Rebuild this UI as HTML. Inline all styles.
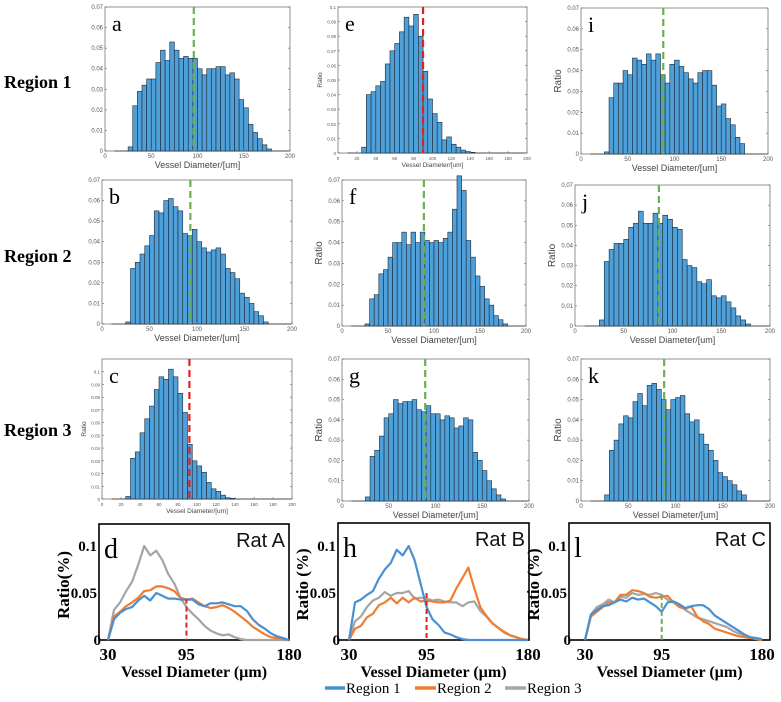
<!DOCTYPE html>
<html><head><meta charset="utf-8">
<style>
body{margin:0;background:#fff;}
svg{display:block;}
</style></head>
<body>
<svg id="fig" width="781" height="702" viewBox="0 0 781 702" xmlns="http://www.w3.org/2000/svg" font-family="Liberation Sans, sans-serif">
<text x="4" y="88" font-family="Liberation Serif, serif" font-weight="bold" font-size="18">Region 1</text>
<text x="4" y="262" font-family="Liberation Serif, serif" font-weight="bold" font-size="18">Region 2</text>
<text x="4" y="436" font-family="Liberation Serif, serif" font-weight="bold" font-size="18">Region 3</text>
<g font-family="Liberation Serif, serif" font-size="15">
<line x1="325" y1="688" x2="345" y2="688" stroke="#4a90d0" stroke-width="3.5"/>
<text x="346" y="693">Region 1</text>
<line x1="415" y1="688" x2="436" y2="688" stroke="#ee7d31" stroke-width="3.5"/>
<text x="437" y="693">Region 2</text>
<line x1="505" y1="688" x2="526" y2="688" stroke="#a5a5a5" stroke-width="3.5"/>
<text x="527" y="693">Region 3</text>
</g>
</svg>
<script>
// Histogram data: bins start at 25 um, width 5 um
const binStart = 25;
const binWidth = 5;
const histA = [0.002,0.022,0.029,0.032,0.035,0.035,0.043,0.049,0.044,0.053,0.049,0.045,0.046,0.045,0.045,0.040,0.037,0.040,0.040,0.041,0.041,0.037,0.038,0.035,0.025,0.021,0.013,0.009,0.006,0.003,0.001];
const histE = [0.004,0.040,0.042,0.046,0.049,0.061,0.070,0.075,0.083,0.093,0.087,0.095,0.080,0.056,0.037,0.027,0.021,0.009,0.011,0.006,0.004,0.002,0.001,0.0005];
const histI = [0.001,0.027,0.034,0.034,0.040,0.038,0.046,0.045,0.043,0.048,0.045,0.048,0.038,0.034,0.043,0.045,0.042,0.039,0.036,0.034,0.039,0.040,0.040,0.033,0.023,0.024,0.017,0.014,0.008,0.005];
const histB = [0.001,0.027,0.030,0.034,0.038,0.043,0.055,0.054,0.060,0.061,0.057,0.055,0.044,0.043,0.046,0.040,0.037,0.035,0.036,0.037,0.034,0.027,0.025,0.022,0.015,0.013,0.010,0.006,0.004,0.001];
const histF = [0.001,0.013,0.015,0.025,0.027,0.033,0.040,0.040,0.045,0.039,0.045,0.040,0.045,0.041,0.040,0.041,0.040,0.042,0.045,0.056,0.072,0.065,0.041,0.033,0.024,0.019,0.013,0.010,0.005,0.003,0.001];
const histJ = [0.003,0.032,0.038,0.041,0.041,0.043,0.049,0.051,0.057,0.051,0.051,0.056,0.051,0.055,0.053,0.049,0.048,0.033,0.030,0.029,0.022,0.021,0.023,0.015,0.014,0.015,0.012,0.009,0.005,0.003,0.001];
const histC = [0.002,0.032,0.037,0.052,0.063,0.073,0.086,0.096,0.094,0.102,0.096,0.083,0.068,0.043,0.030,0.026,0.021,0.013,0.008,0.006,0.003,0.001,0.0005];
const histG = [0.002,0.022,0.025,0.032,0.041,0.043,0.050,0.048,0.049,0.049,0.050,0.045,0.044,0.047,0.043,0.043,0.040,0.042,0.041,0.036,0.037,0.041,0.040,0.024,0.020,0.015,0.010,0.006,0.003,0.001];
const histK = [0.003,0.025,0.030,0.038,0.042,0.041,0.049,0.053,0.047,0.057,0.058,0.055,0.050,0.045,0.050,0.051,0.052,0.043,0.039,0.040,0.033,0.028,0.025,0.020,0.014,0.012,0.010,0.008,0.005,0.003];
const ticks007 = [0,0.01,0.02,0.03,0.04,0.05,0.06,0.07];
const tickLabels007 = ["0","0.01","0.02","0.03","0.04","0.05","0.06","0.07"];
const ticks01 = [0,0.01,0.02,0.03,0.04,0.05,0.06,0.07,0.08,0.09,0.1];
const tickLabels01 = ["0","0.01","0.02","0.03","0.04","0.05","0.06","0.07","0.08","0.09","0.1"];
const xTicks50 = [0,50,100,150,200];
const xTicks20 = [0,20,40,60,80,100,120,140,160,180,200];

// Line chart data
const lineX = [30,35,40,45,50,55,60,65,70,75,80,85,90,95,100,105,110,115,120,125,130,135,140,145,150,155,160,165,170,175,180];
const ratA1 = [0,0.022,0.029,0.033,0.035,0.042,0.047,0.042,0.050,0.047,0.044,0.044,0.043,0.043,0.043,0.038,0.036,0.039,0.039,0.040,0.038,0.036,0.036,0.031,0.022,0.016,0.012,0.007,0.004,0.002,0];
const ratA2 = [0,0.025,0.030,0.036,0.040,0.045,0.052,0.053,0.057,0.057,0.055,0.052,0.045,0.043,0.044,0.040,0.036,0.034,0.035,0.037,0.034,0.030,0.025,0.020,0.014,0.010,0.006,0.003,0.002,0.001,0];
const ratA3 = [0,0.032,0.040,0.052,0.062,0.080,0.100,0.090,0.095,0.085,0.070,0.060,0.045,0.035,0.028,0.022,0.015,0.010,0.007,0.005,0.006,0.003,0.001,0,0,0,0,0,0,0,0];
const ratB1 = [0,0.040,0.043,0.048,0.052,0.065,0.075,0.082,0.096,0.090,0.100,0.085,0.060,0.035,0.022,0.016,0.008,0.006,0.003,0.001,0,0,0,0,0,0,0,0,0,0,0];
const ratB2 = [0,0.012,0.015,0.024,0.028,0.037,0.040,0.045,0.039,0.045,0.040,0.045,0.041,0.042,0.041,0.040,0.040,0.042,0.055,0.066,0.077,0.055,0.035,0.026,0.018,0.013,0.008,0.005,0.003,0.001,0];
const ratB3 = [0,0.020,0.025,0.035,0.042,0.045,0.051,0.047,0.050,0.050,0.052,0.044,0.045,0.044,0.042,0.043,0.041,0.040,0.040,0.036,0.040,0.041,0.031,0.025,0.018,0.013,0.009,0.005,0.003,0.001,0];
const ratC1 = [0,0.027,0.032,0.036,0.037,0.040,0.043,0.041,0.045,0.043,0.044,0.040,0.036,0.030,0.040,0.041,0.038,0.034,0.036,0.037,0.037,0.033,0.026,0.022,0.018,0.014,0.010,0.006,0.003,0.002,0.001];
const ratC2 = [0,0.025,0.030,0.035,0.040,0.040,0.048,0.048,0.053,0.052,0.050,0.046,0.045,0.046,0.047,0.040,0.035,0.033,0.036,0.025,0.020,0.017,0.012,0.010,0.008,0.006,0.004,0.003,0.002,0.001,0];
const ratC3 = [0,0.027,0.035,0.038,0.043,0.040,0.046,0.045,0.050,0.048,0.049,0.048,0.050,0.048,0.043,0.040,0.037,0.032,0.028,0.024,0.022,0.020,0.018,0.016,0.014,0.010,0.007,0.005,0.003,0.002,0];
const lineYTicks = [0,0.05,0.1];
const lineYLabels = ["0","0.05","0.1"];
const lineXTicks = [30,95,180];

const NS = "http://www.w3.org/2000/svg";
const svg = document.getElementById('fig');
function mk(tag, attrs, parent){
  const e = document.createElementNS(NS, tag);
  for (const k in attrs) e.setAttribute(k, attrs[k]);
  (parent||svg).appendChild(e);
  return e;
}

function histogram(o){
  const g = mk('g', {});
  
  
  const sx = v => o.x0 + (v/200)*(o.x1-o.x0);
  const sy = v => o.y1 - (v/o.ymax)*(o.y1-o.y0);
  const fr = mk('rect', {x:o.x0, y:o.y0, width:o.x1-o.x0, height:o.y1-o.y0, fill:'#fff', stroke:'#777', 'stroke-width':0.8}, g);
  
  
  // baseline
  mk('line', {x1:sx(10), y1:o.y1, x2:sx(200), y2:o.y1, stroke:'#333','stroke-width':0.8}, g);
  o.values.forEach((v,i)=>{
    const a = binStart + i*binWidth;
    const r = mk('rect', {x:sx(a), y:sy(v), width:sx(a+binWidth)-sx(a), height:o.y1-sy(v), fill:'#4f9fd8', stroke:'#1c2a38', 'stroke-width':0.6}, g);
    
    
  });
  const fs = o.small ? 4.5 : 6;
  o.yticks.forEach((t,i)=>{
    const y = sy(t);
    mk('line', {x1:o.x0, y1:y, x2:o.x0+2, y2:y, stroke:'#666','stroke-width':0.6}, g);
    mk('line', {x1:o.x1, y1:y, x2:o.x1-2, y2:y, stroke:'#666','stroke-width':0.6}, g);
    const t1 = mk('text', {x:o.x0-2, y:y+2, 'font-size':fs, fill:'#555', 'text-anchor':'end'}, g);
    t1.textContent = o.ylabels[i];
    
    
  });
  o.xticks.forEach(t=>{
    const x = sx(t);
    mk('line', {x1:x, y1:o.y1, x2:x, y2:o.y1-2, stroke:'#666','stroke-width':0.6}, g);
    const t1 = mk('text', {x:x, y:o.y1+7, 'font-size':fs, fill:'#555', 'text-anchor':'middle'}, g);
    t1.textContent = String(t);
    
    
  });
  const xl = mk('text', {x:(o.x0+o.x1)/2, y:o.y1+(o.small?14:17), 'font-size':o.small?6.5:9, fill:'#444', 'text-anchor':'middle'}, g);
  xl.textContent = 'Vessel Diameter/[um]';
  
  
  if (o.ratio){
    const yl = mk('text', {x:0, y:0, 'font-size':o.small?6.5:10, fill:'#444', 'text-anchor':'middle', transform:`translate(${o.x0-(o.small?16:20)},${(o.y0+o.y1)/2}) rotate(-90)`}, g);
    yl.textContent = 'Ratio';
    
    
  }
  const dl = mk('line', {x1:sx(o.dash), y1:o.y0, x2:sx(o.dash), y2:o.y1, stroke:o.dashColor, 'stroke-width':2.2, 'stroke-dasharray':'7,4'}, g);
  
  
  const lt = mk('text', {x:o.x0+7, y:o.y0+24, 'font-size':22, 'font-family':'Liberation Serif, serif', fill:'#000'}, g);
  lt.textContent = o.letter;
  
  
}

const green = '#6ab04c', red = '#e02020';
histogram({letter:'a', x0:105, x1:290, y0:7, y1:151, values:histA, ymax:0.07, yticks:ticks007, ylabels:tickLabels007, xticks:xTicks50, dash:96, dashColor:green, ratio:false});
histogram({letter:'e', x0:338, x1:527, y0:7, y1:153, values:histE, ymax:0.1, yticks:ticks01, ylabels:tickLabels01, xticks:xTicks20, dash:90, dashColor:red, ratio:true, small:true});
histogram({letter:'i', x0:581, x1:768, y0:8, y1:154, values:histI, ymax:0.07, yticks:ticks007, ylabels:tickLabels007, xticks:xTicks50, dash:88, dashColor:green, ratio:true});
histogram({letter:'b', x0:102, x1:292, y0:180, y1:324, values:histB, ymax:0.07, yticks:ticks007, ylabels:tickLabels007, xticks:xTicks50, dash:93, dashColor:green, ratio:false});
histogram({letter:'f', x0:342, x1:526, y0:180, y1:326, values:histF, ymax:0.07, yticks:ticks007, ylabels:tickLabels007, xticks:xTicks50, dash:89, dashColor:green, ratio:true});
histogram({letter:'j', x0:575, x1:770, y0:185, y1:326, values:histJ, ymax:0.07, yticks:ticks007, ylabels:tickLabels007, xticks:xTicks50, dash:86, dashColor:green, ratio:true});
histogram({letter:'c', x0:102, x1:292, y0:359, y1:499, values:histC, ymax:0.11, yticks:ticks01, ylabels:tickLabels01, xticks:xTicks20, dash:92, dashColor:red, ratio:true, small:true});
histogram({letter:'g', x0:342, x1:529, y0:359, y1:501, values:histG, ymax:0.07, yticks:ticks007, ylabels:tickLabels007, xticks:xTicks50, dash:89, dashColor:green, ratio:true});
histogram({letter:'k', x0:581, x1:770, y0:359, y1:501, values:histK, ymax:0.07, yticks:ticks007, ylabels:tickLabels007, xticks:xTicks50, dash:88, dashColor:green, ratio:true});

function lineChart(o){
  const g = mk('g', {});
  
  
  const sx = v => o.xa + (v-30)/150*(o.xb-o.xa);
  const sy = v => o.y1 - v/0.1*94;
  const fr = mk('rect', {x:o.x0, y:o.y0, width:o.x1-o.x0, height:o.y1-o.y0, fill:'#fff', stroke:'#000', 'stroke-width':1.6}, g);
  
  
  const lt = mk('text', {x:o.x0+5, y:o.y0+34, 'font-size':28, 'font-family':'Liberation Serif, serif'}, g);
  lt.textContent = o.letter;
  
  
  const tt = mk('text', {x:o.x1-4, y:o.y0+23, 'font-size':20, 'text-anchor':'end', fill:'#111'}, g);
  tt.textContent = o.title;
  
  
  const cols = ['#4a90d0','#ee7d31','#a5a5a5'];
  const names = ['series-region-1','series-region-2','series-region-3'];
  [2,1,0].forEach(si=>{
    const d = o.series[si].map((v,i)=>(i?'L':'M')+sx(lineX[i]).toFixed(1)+','+sy(v).toFixed(1)).join(' ');
    const p = mk('path', {d:d, fill:'none', stroke:cols[si], 'stroke-width':2.2, 'stroke-linejoin':'round'}, g);
    
    
  });
  const dl = mk('line', {x1:sx(95), y1:sy(o.dashTop), x2:sx(95), y2:o.y1, stroke:o.dashColor, 'stroke-width':2, 'stroke-dasharray':'5,3'}, g);
  
  
  lineYTicks.forEach((t,i)=>{
    const tx = mk('text', {x:o.x0+(t===0?0:-2), y:sy(t)+5, 'font-size':15, 'font-weight':'bold', 'font-family':'Liberation Serif, serif', 'text-anchor':'end'}, g);
    if (t===0) tx.setAttribute('x', o.x0+2);
    tx.textContent = lineYLabels[i];
    
    
  });
  lineXTicks.forEach(t=>{
    const tx = mk('text', {x:sx(t), y:o.y1+20, 'font-size':17, 'font-weight':'bold', 'font-family':'Liberation Serif, serif', 'text-anchor':'middle'}, g);
    tx.textContent = String(t);
    
    
  });
  const xl = mk('text', {x:(o.x0+o.x1)/2, y:o.y1+37, 'font-size':16, 'font-weight':'bold', 'font-family':'Liberation Serif, serif', 'text-anchor':'middle'}, g);
  xl.textContent = 'Vessel Diameter (\u00b5m)';
  
  
  const yl = mk('text', {x:0, y:0, 'font-size':17, 'font-weight':'bold', 'font-family':'Liberation Serif, serif', 'text-anchor':'middle', transform:`translate(${o.x0-30},${(o.y0+o.y1)/2+3}) rotate(-90)`}, g);
  yl.textContent = o.ylabel;
  
  
}
lineChart({letter:'d', title:'Rat A', x0:99, x1:289, y0:524, y1:640, xa:108, xb:289, series:[ratA1,ratA2,ratA3], dashColor:red, dashTop:0.044, ylabel:'Ratio(%)'});
lineChart({letter:'h', title:'Rat B', x0:338, x1:529, y0:523, y1:640, xa:349, xb:528, series:[ratB1,ratB2,ratB3], dashColor:red, dashTop:0.05, ylabel:'Ratio (%)'});
lineChart({letter:'l', title:'Rat C', x0:569, x1:770, y0:523, y1:640, xa:585, xb:762, series:[ratC1,ratC2,ratC3], dashColor:green, dashTop:0.048, ylabel:'Ratio (%)'});
</script>
</body></html>
